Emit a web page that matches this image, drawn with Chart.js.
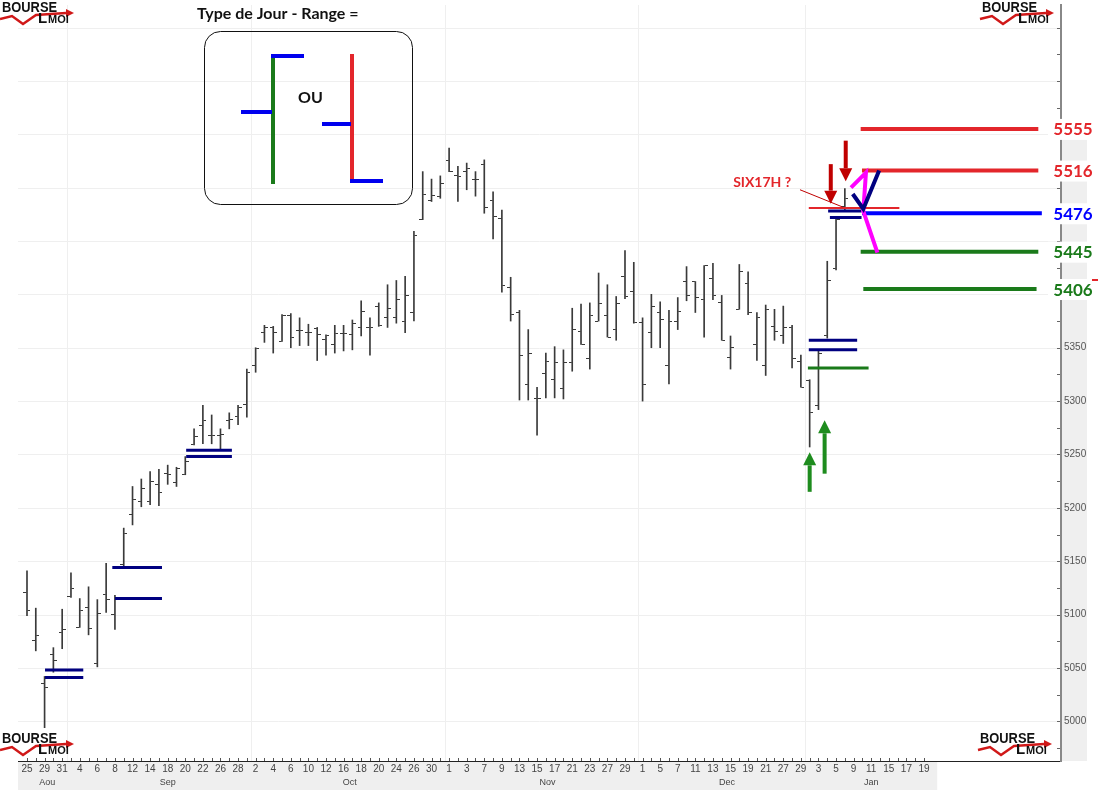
<!DOCTYPE html>
<html><head><meta charset="utf-8">
<script src="https://cdn.jsdelivr.net/npm/chart.js@4.4.1/dist/chart.umd.min.js"></script>
<style>html,body{margin:0;padding:0;background:#fff;overflow:hidden}canvas{display:block}</style>
</head><body>
<canvas id="c" width="1107" height="800"></canvas>
<script>
// ---- DATA ----
// trading days (day of month) 25 Aug 2017 -> 19 Jan 2018
const days = [25,28,29,30,31,
 1,4,5,6,7,8,11,12,13,14,15,18,19,20,21,22,25,26,27,28,29,
 2,3,4,5,6,9,10,11,12,13,16,17,18,19,20,23,24,25,26,27,30,31,
 1,2,3,6,7,8,9,10,13,14,15,16,17,20,21,22,23,24,27,28,29,30,
 1,4,5,6,7,8,11,12,13,14,15,18,19,20,21,22,27,28,29,
 2,3,4,5,8,9,10,11,12,15,16,17,18,19];
const months = ['Aou','Sep','Oct','Nov','Dec','Jan'];
const monthLabelAt = [2.3, 16, 36.7, 59.2, 79.6, 96];
const monthStartAt = [5, 26, 48, 70, 89];
const yTickValues = [5000,5050,5100,5150,5200,5250,5300,5350];

const open = [5121,5076,5035,5063,5083,5117,5088,5107,5054,5119,
 5100,5147,5194,5206,5206,5222,5232,5224,5231,5259,
 5277,5268,5268,5282,5286,5297,5333,5364,5369,5356,
 5380,5366,5364,5368,5358,5353,5363,5362,5369,5369,
 5389,5378,5378,5375,5383,5470,5488,5492,5525,5511,
 5515,5508,5522,5488,5471,5406,5383,5316,5302,5326,
 5320,5312,5336,5365,5340,5375,5380,5367,5417,5403,
 5374,5364,5383,5333,5375,5412,5412,5395,5415,5392,
 5341,5386,5410,5353,5333,5370,5361,5369,5337,5319,
 5296,5361,5424,5482];
const high = [5141,5106,5042,5069,5105,5139,5115,5126,5114,5148,
 5118,5181,5220,5227,5234,5236,5240,5238,5248,5274,
 5296,5287,5274,5289,5296,5330,5350,5371,5370,5381,
 5382,5378,5372,5369,5362,5371,5371,5376,5394,5378,
 5392,5409,5413,5417,5459,5515,5508,5511,5537,5520,
 5523,5515,5526,5496,5479,5416,5385,5367,5313,5345,
 5351,5348,5387,5391,5392,5420,5409,5398,5441,5430,
 5378,5400,5393,5385,5397,5426,5412,5427,5429,5399,
 5361,5428,5421,5383,5390,5386,5389,5371,5343,5320,
 5347,5431,5471,5499];
const low = [5099,5066,4994,5046,5068,5116,5088,5081,5051,5102,
 5086,5145,5184,5201,5203,5202,5222,5220,5231,5259,
 5260,5260,5255,5274,5278,5285,5327,5355,5345,5356,
 5350,5352,5352,5338,5343,5345,5347,5348,5361,5343,
 5370,5369,5373,5364,5375,5470,5487,5490,5515,5487,
 5498,5492,5476,5452,5402,5375,5301,5301,5268,5303,
 5303,5302,5328,5353,5330,5375,5360,5357,5396,5373,
 5300,5350,5350,5316,5367,5394,5383,5360,5395,5357,
 5330,5386,5381,5338,5324,5357,5354,5331,5313,5257,
 5292,5359,5423,5478];
const close = [5104,5080,5032,5057,5086,5124,5104,5087,5101,5114,
 5114,5176,5208,5218,5225,5214,5231,5237,5243,5267,
 5282,5268,5269,5283,5294,5327,5349,5369,5364,5380,
 5360,5366,5364,5362,5361,5363,5363,5373,5384,5369,
 5371,5387,5395,5399,5455,5494,5493,5504,5515,5510,
 5518,5508,5481,5473,5408,5381,5343,5345,5302,5337,
 5336,5336,5367,5353,5380,5391,5360,5391,5398,5374,
 5316,5389,5376,5375,5384,5399,5397,5427,5399,5357,
 5350,5421,5383,5378,5386,5365,5369,5340,5313,5289,
 5345,5413,5470,5490];

// target levels (right side)
const levels = [5555, 5516, 5476, 5440, 5405];
const levelLabels = ['5555','5516','5476','5445','5406'];
const levelStart = [94.8, 94.95, 94.95, 94.8, 95.1];
const levelEnd = [115, 115, 115.4, 115, 114.8];
// "range" double marks
const rangeStart = [2.05, 2.05, 9.7, 10.0, 18.1, 18.1, 88.9, 88.9, 91.1, 91.3];
const rangeEnd   = [6.4, 6.4, 15.35, 15.35, 23.3, 23.3, 94.4, 94.4, 94.9, 94.9];
const rangeLevel = [5048, 5041, 5144, 5115, 5254, 5248, 5357, 5348, 5478, 5472];
const greenMark = [88.8, 95.7, 5331];
const redMark = [88.9, 99.2, 5481];
const pinkPathX = [93.7, 95.4, 95.1, 96.7];
const pinkPathY = [5500, 5514, 5478, 5439];
const checkX = [93.9, 95.1, 96.9];
const checkY = [5494, 5480, 5516];
const upArrowX = [89.0, 90.7], upArrowFrom = [5215, 5232], upArrowTo = [5252, 5282];
const downArrowX = [91.4, 93.1], downArrowFrom = [5522, 5544], downArrowTo = [5485, 5506];
const sixLabel = ['SIX17H ?', 83.6, 5505];
const sixPointer = [87.9, 5498, 92.7, 5482];
const lastMark = 5413;

// ---- STYLE / SETUP ----
const X_MIN = -1.023, X_MAX = 117.58, Y_MIN = 4962.8, Y_MAX = 5671.1;
const BAR = '#3a3a3a';
const RED = '#e3262b', BLUE = '#0000ff', GREEN = '#1a7a1a', NAVY = '#000080';
const levelColors = [RED, RED, BLUE, GREEN, GREEN];

function tickImg(left) {
  const c = document.createElement('canvas');
  c.width = 7; c.height = 1;
  const g = c.getContext('2d');
  g.fillStyle = BAR;
  g.fillRect(left ? 0 : 4, 0, 3, 1);
  return c;
}

const idx = open.map((_, i) => i);
const datasets = [];
datasets.push({type:'bar', data: idx.map(i => ({x:i, y:[low[i], high[i]]})), backgroundColor: BAR, borderWidth:0, barThickness:1, order: 20});
datasets.push({type:'scatter', data: idx.map(i => ({x:i, y:open[i]})), pointStyle: tickImg(true), pointRadius:3, order: 19});
datasets.push({type:'scatter', data: idx.map(i => ({x:i, y:close[i]})), pointStyle: tickImg(false), pointRadius:3, order: 19});

function seg(x0, x1, y, color, w, order) {
  return {type:'line', data:[{x:x0,y:y},{x:x1,y:y}], borderColor: color, borderWidth: w, pointRadius:0, borderCapStyle:'butt', order: order};
}
rangeLevel.forEach((v, k) => datasets.push(seg(rangeStart[k], rangeEnd[k], v, NAVY, 3, 5)));
datasets.push(seg(greenMark[0], greenMark[1], greenMark[2], GREEN, 3, 5));
datasets.push(seg(redMark[0], redMark[1], redMark[2], RED, 2, 6));
levels.forEach((v, k) => datasets.push(seg(levelStart[k], levelEnd[k], v, levelColors[k], 4, 4)));
datasets.push({type:'line', data: pinkPathX.map((x,k)=>({x:x, y:pinkPathY[k]})), borderColor:'#ff00ff', borderWidth:4, pointRadius:0, order:2});
datasets.push({type:'line', data: checkX.map((x,k)=>({x:x, y:checkY[k]})), borderColor: NAVY, borderWidth:4, pointRadius:0, order:1});

function arrow(ctx, x, y0, y1, color, shaft, headW, headL) {
  const dir = y1 < y0 ? -1 : 1;
  ctx.save();
  ctx.fillStyle = color;
  ctx.fillRect(x - shaft/2, Math.min(y0, y1 - dir*headL), shaft, Math.abs((y1 - dir*headL) - y0));
  ctx.beginPath();
  ctx.moveTo(x - headW/2, y1 - dir*headL);
  ctx.lineTo(x + headW/2, y1 - dir*headL);
  ctx.lineTo(x, y1);
  ctx.closePath(); ctx.fill();
  ctx.restore();
}

function drawLogo(ctx, x, y) {
  ctx.save();
  ctx.fillStyle = '#111';
  ctx.textBaseline = 'top';
  ctx.font = 'bold 14px "Liberation Sans Narrow", "Liberation Sans", Arial';
  ctx.save(); ctx.translate(x + 2, y + 1); ctx.scale(0.92, 1);
  ctx.fillText('BOURSE', 0, 0); ctx.restore();
  ctx.strokeStyle = '#d01818'; ctx.lineWidth = 2.5; ctx.lineJoin = 'miter';
  ctx.beginPath();
  ctx.moveTo(x, y + 19); ctx.lineTo(x + 12, y + 16); ctx.lineTo(x + 23, y + 24); ctx.lineTo(x + 36, y + 15); ctx.lineTo(x + 66, y + 13);
  ctx.stroke();
  ctx.fillStyle = '#d01818';
  ctx.beginPath(); ctx.moveTo(x + 66, y + 9); ctx.lineTo(x + 74, y + 13); ctx.lineTo(x + 66, y + 17); ctx.closePath(); ctx.fill();
  ctx.fillStyle = '#111';
  ctx.font = 'bold 15px "Liberation Sans Narrow", "Liberation Sans", Arial';
  ctx.fillText('L', x + 38, y + 11);
  ctx.font = 'bold 11px "Liberation Sans Narrow", "Liberation Sans", Arial';
  ctx.fillText('MOI', x + 48, y + 14);
  ctx.restore();
}

const deco = {
  id: 'deco',
  beforeDraw(chart) {
    const ctx = chart.ctx, a = chart.chartArea;
    const xs = chart.scales.x, ys = chart.scales.y;
    ctx.save();
    ctx.fillStyle = '#fff'; ctx.fillRect(0, 0, chart.width, chart.height);
    // label bands
    ctx.fillStyle = '#efefef';
    ctx.fillRect(a.left, a.bottom + 1, xs.getPixelForValue(103.5) - a.left, 28);
    ctx.fillRect(a.right + 1, 130, 25, a.bottom - 130);
    // grid
    ctx.strokeStyle = '#efefef'; ctx.lineWidth = 1;
    for (let v = 5000; v <= 5650; v += 50) {
      const y = Math.round(ys.getPixelForValue(v)) + 0.5;
      ctx.beginPath(); ctx.moveTo(a.left, y); ctx.lineTo(a.right, y); ctx.stroke();
    }
    monthStartAt.forEach(m => {
      const x = Math.round(xs.getPixelForValue(m - 0.5)) + 0.5;
      ctx.beginPath(); ctx.moveTo(x, a.top); ctx.lineTo(x, a.bottom); ctx.stroke();
    });
    ctx.restore();
  },
  afterDraw(chart) {
    const ctx = chart.ctx, a = chart.chartArea;
    const xs = chart.scales.x, ys = chart.scales.y;
    const X = v => xs.getPixelForValue(v), Y = v => ys.getPixelForValue(v);
    ctx.save();
    // x day ticks
    ctx.strokeStyle = '#555'; ctx.lineWidth = 1;
    for (let i = 0; i < days.length; i++) {
      const x = Math.round(X(i)) + 0.5;
      ctx.beginPath(); ctx.moveTo(x, a.bottom - 3); ctx.lineTo(x, a.bottom); ctx.stroke();
    }
    // y minor ticks
    ctx.strokeStyle = '#666';
    for (let v = 4975; v <= 5650; v += 25) {
      const y = Math.round(Y(v)) + 0.5;
      ctx.beginPath(); ctx.moveTo(a.right - 4, y); ctx.lineTo(a.right - 1, y); ctx.stroke();
    }
    // month labels
    ctx.fillStyle = '#444'; ctx.font = '9px "Liberation Sans", Arial';
    ctx.textAlign = 'center'; ctx.textBaseline = 'middle';
    months.forEach((m, k) => ctx.fillText(m, X(monthLabelAt[k]), 783));
    // arrows
    upArrowX.forEach((x, k) => arrow(ctx, X(x), Y(upArrowFrom[k]), Y(upArrowTo[k]), '#1e8c1e', 4, 13, 13));
    downArrowX.forEach((x, k) => arrow(ctx, X(x), Y(downArrowFrom[k]), Y(downArrowTo[k]), '#c00000', 4, 13, 13));
    // SIX17H label + pointer
    ctx.strokeStyle = '#c00000'; ctx.lineWidth = 1;
    ctx.beginPath(); ctx.moveTo(X(sixPointer[0]), Y(sixPointer[1])); ctx.lineTo(X(sixPointer[2]), Y(sixPointer[3])); ctx.stroke();
    ctx.fillStyle = RED; ctx.font = 'bold 14px Lato, "Open Sans", sans-serif';
    ctx.textAlign = 'center'; ctx.textBaseline = 'middle';
    ctx.fillText(sixLabel[0], X(sixLabel[1]), Y(sixLabel[2]));
    // level labels
    ctx.font = 'bold 17px Lato, "Open Sans", sans-serif';
    levels.forEach((v, k) => {
      const y = Y(v);
      ctx.fillStyle = '#fff'; ctx.fillRect(1048, y - 10, 50, 21);
      ctx.fillStyle = levelColors[k];
      ctx.fillText(levelLabels[k], 1073, y + 1);
    });
    // last price dash
    ctx.fillStyle = RED; ctx.fillRect(1092, Math.round(Y(lastMark)) - 1, 6, 2);
    // legend box
    ctx.fillStyle = '#111'; ctx.textAlign = 'left'; ctx.textBaseline = 'alphabetic';
    ctx.font = 'bold 16px Lato, "Open Sans", sans-serif';
    ctx.fillText('Type de Jour - Range =', 197, 19);
    ctx.strokeStyle = '#111'; ctx.lineWidth = 1;
    ctx.beginPath(); ctx.roundRect(204.5, 31.5, 208, 173, 16); ctx.stroke();
    ctx.fillText('OU', 298, 103);
    const L = (x0, y0, x1, y1, c) => { ctx.strokeStyle = c; ctx.lineWidth = 4; ctx.lineCap = 'butt'; ctx.beginPath(); ctx.moveTo(x0, y0); ctx.lineTo(x1, y1); ctx.stroke(); };
    L(273, 54, 273, 184, '#1a7a1a');
    L(271, 56, 304, 56, '#0000ee');
    L(241, 112, 272, 112, '#0000ee');
    L(352, 54, 352, 183, '#e3262b');
    L(322, 124, 351, 124, '#0000ee');
    L(350, 181, 383, 181, '#0000ee');
    // logos
    drawLogo(ctx, 0, 0);
    drawLogo(ctx, 980, 0);
    drawLogo(ctx, 0, 731);
    drawLogo(ctx, 978, 731);
    ctx.restore();
  }
};

new Chart(document.getElementById('c'), {
  type: 'bar',
  data: { datasets },
  options: {
    responsive: false, animation: false, events: [],
    devicePixelRatio: 1,
    layout: { padding: { left: 18, top: 0, right: 0, bottom: 0 } },
    plugins: { legend: { display: false }, tooltip: { enabled: false } },
    scales: {
      x: {
        type: 'linear', min: X_MIN, max: X_MAX, position: 'bottom', offset: false,
        grid: { display: false, drawTicks: false, offset: false },
        border: { display: true, color: '#222', width: 1 },
        afterBuildTicks: s => { s.ticks = days.map((d, i) => i).filter(i => i % 2 === 0).map(v => ({ value: v })); },
        afterFit: s => { s.height = 39; s.paddingLeft = 0; s.paddingRight = 0; },
        ticks: { autoSkip: false, maxRotation: 0, padding: 2, color: '#444', font: { size: 10, family: '"Liberation Sans", Arial' },
          callback: v => String(days[v]) }
      },
      y: {
        type: 'linear', min: Y_MIN, max: Y_MAX, position: 'right',
        grid: { display: false, drawTicks: false },
        border: { display: true, color: '#888', width: 2 },
        afterBuildTicks: s => { s.ticks = yTickValues.map(v => ({ value: v })); },
        afterFit: s => { s.width = 46; s.paddingTop = 0; s.paddingBottom = 0; },
        ticks: { padding: 3, color: '#555', font: { size: 10, family: '"Liberation Sans", Arial' }, callback: v => String(v) }
      }
    }
  },
  plugins: [deco]
});
</script>
</body></html>
